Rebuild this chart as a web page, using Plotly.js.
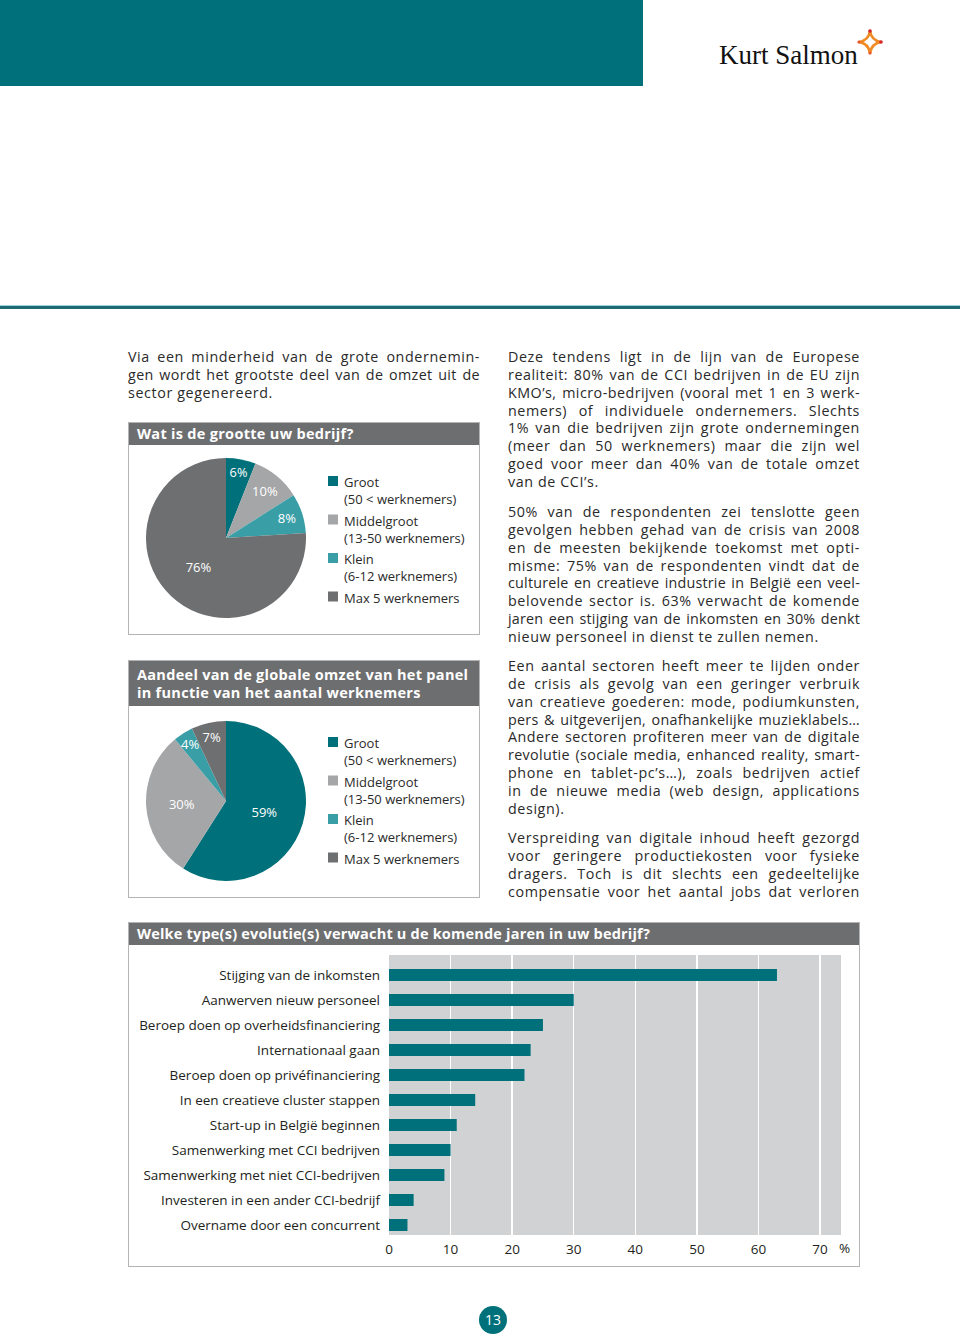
<!DOCTYPE html>
<html><head><meta charset="utf-8">
<script src="https://cdn.plot.ly/plotly-3.0.1.min.js"></script>
<style>
html,body{margin:0;padding:0}
body{width:960px;height:1338px;position:relative;background:#fff;font-family:"Open Sans",sans-serif;color:#2a2a2a;overflow:hidden}
.abs{position:absolute}
.col{position:absolute;width:352px;font-size:14.3px;line-height:17.85px;letter-spacing:0.6px}
.ln{white-space:nowrap}
.box{position:absolute;box-sizing:border-box;border:1px solid #b4b4b4;background:#fff}
.hdr{position:absolute;left:0;top:0;right:0;background:#6d6e70;color:#fff;font-weight:700;font-size:14.5px;padding-left:8px;box-sizing:border-box;letter-spacing:0.3px}
</style></head>
<body>
<div class="abs" style="left:0;top:0;width:643px;height:86px;background:#00717b"></div>
<div class="abs" style="left:719px;top:42px;font-family:'Liberation Serif',serif;font-size:27px;line-height:27px;color:#111">Kurt Salmon</div>
<svg class="abs" style="left:856px;top:28px" width="28" height="28" viewBox="0 0 28 28">
 <path d="M14 3 Q15.5 12.5 25 14 Q15.5 15.5 14 25 Q12.5 15.5 3 14 Q12.5 12.5 14 3 Z" fill="none" stroke="#f08a24" stroke-width="2.6" stroke-linejoin="round"/>
 <circle cx="14" cy="3" r="1.8" fill="#d7262e"/><circle cx="25" cy="14" r="1.8" fill="#d7262e"/><circle cx="3" cy="14" r="1.6" fill="#e9542a"/><circle cx="14" cy="25" r="1.6" fill="#e9542a"/>
</svg>
<div class="abs" style="left:0;top:305px;width:960px;height:1px;background:#9fd3d8"></div>
<div class="abs" style="left:0;top:306px;width:960px;height:2.5px;background:#1c6a73"></div>

<div class="col" style="left:128px;top:348px">
<div class="ln j"><span>Via een minderheid van de grote ondernemin-</span></div>
<div class="ln j"><span>gen wordt het grootste deel van de omzet uit de</span></div>
<div class="ln"><span>sector gegenereerd.</span></div>
</div>

<div class="col" style="left:508px;top:348px">
<div class="ln j"><span>Deze tendens ligt in de lijn van de Europese</span></div>
<div class="ln j"><span>realiteit: 80% van de CCI bedrijven in de EU zijn</span></div>
<div class="ln j"><span>KMO’s, micro-bedrijven (vooral met 1 en 3 werk-</span></div>
<div class="ln j"><span>nemers) of individuele ondernemers. Slechts</span></div>
<div class="ln j"><span>1% van die bedrijven zijn grote ondernemingen</span></div>
<div class="ln j"><span>(meer dan 50 werknemers) maar die zijn wel</span></div>
<div class="ln j"><span>goed voor meer dan 40% van de totale omzet</span></div>
<div class="ln"><span>van de CCI’s.</span></div>
</div>
<div class="col" style="left:508px;top:503px">
<div class="ln j"><span>50% van de respondenten zei tenslotte geen</span></div>
<div class="ln j"><span>gevolgen hebben gehad van de crisis van 2008</span></div>
<div class="ln j"><span>en de meesten bekijkende toekomst met opti-</span></div>
<div class="ln j"><span>misme: 75% van de respondenten vindt dat de</span></div>
<div class="ln j"><span>culturele en creatieve industrie in België een veel-</span></div>
<div class="ln j"><span>belovende sector is. 63% verwacht de komende</span></div>
<div class="ln j"><span>jaren een stijging van de inkomsten en 30% denkt</span></div>
<div class="ln"><span>nieuw personeel in dienst te zullen nemen.</span></div>
</div>
<div class="col" style="left:508px;top:657px">
<div class="ln j"><span>Een aantal sectoren heeft meer te lijden onder</span></div>
<div class="ln j"><span>de crisis als gevolg van een geringer verbruik</span></div>
<div class="ln j"><span>van creatieve goederen: mode, podiumkunsten,</span></div>
<div class="ln j"><span>pers &amp; uitgeverijen, onafhankelijke muzieklabels…</span></div>
<div class="ln j"><span>Andere sectoren profiteren meer van de digitale</span></div>
<div class="ln j"><span>revolutie (sociale media, enhanced reality, smart-</span></div>
<div class="ln j"><span>phone en tablet-pc’s…), zoals bedrijven actief</span></div>
<div class="ln j"><span>in de nieuwe media (web design, applications</span></div>
<div class="ln"><span>design).</span></div>
</div>
<div class="col" style="left:508px;top:829px">
<div class="ln j"><span>Verspreiding van digitale inhoud heeft gezorgd</span></div>
<div class="ln j"><span>voor geringere productiekosten voor fysieke</span></div>
<div class="ln j"><span>dragers. Toch is dit slechts een gedeeltelijke</span></div>
<div class="ln j"><span>compensatie voor het aantal jobs dat verloren</span></div>
</div>

<div class="box" style="left:128px;top:422px;width:352px;height:213px">
 <div class="hdr" style="height:22px;line-height:22px">Wat is de grootte uw bedrijf?</div>
</div>
<div id="pie1" class="abs" style="left:129px;top:445px;width:350px;height:188px"></div>

<div class="box" style="left:128px;top:660px;width:352px;height:238px">
 <div class="hdr" style="height:45px;line-height:18px;padding-top:5px">Aandeel van de globale omzet van het panel<br>in functie van het aantal werknemers</div>
</div>
<div id="pie2" class="abs" style="left:129px;top:706px;width:350px;height:190px"></div>

<div class="box" style="left:128px;top:922px;width:732px;height:345px">
 <div class="hdr" style="height:22px;line-height:22px;letter-spacing:0.2px">Welke type(s) evolutie(s) verwacht u de komende jaren in uw bedrijf?</div>
</div>
<div id="bars" class="abs" style="left:129px;top:945px;width:730px;height:320px"></div>

<div class="abs" style="left:479px;top:1306px;width:28px;height:28px;border-radius:50%;background:#00717b;color:#fff;font-size:14px;line-height:28px;text-align:center">13</div>

<script>
// ---- data ----
const sizeNames = ['Groot', 'Middelgroot', 'Klein', 'Max 5 werknemers'];
const sizeSub = ['(50 < werknemers)', '(13-50 werknemers)', '(6-12 werknemers)', ''];
const sizeColors = ['#00707a', '#a5a6a8', '#3a9ea7', '#6e6f71'];
const companyShare = [6, 10, 8, 76];
const turnoverShare = [59, 30, 4, 7];

const evolutionLabels = [
  'Stijging van de inkomsten',
  'Aanwerven nieuw personeel',
  'Beroep doen op overheidsfinanciering',
  'Internationaal gaan',
  'Beroep doen op privéfinanciering',
  'In een creatieve cluster stappen',
  'Start-up in België beginnen',
  'Samenwerking met CCI bedrijven',
  'Samenwerking met niet CCI-bedrijven',
  'Investeren in een ander CCI-bedrijf',
  'Overname door een concurrent'
];
const evolutionValues = [63, 30, 25, 23, 22, 14, 11, 10, 9, 4, 3];
const xTicks = [0, 10, 20, 30, 40, 50, 60, 70];

// ---- justify lines ----
function justify(){
  const W = 352, LS = 0.6, MINWS = 1.5;
  document.querySelectorAll('.j').forEach(d=>{
    const s=d.firstChild;
    s.style.wordSpacing='0px'; s.style.letterSpacing=LS+'px';
    let w=s.getBoundingClientRect().width;
    const n=(s.textContent.match(/ /g)||[]).length;
    const chars=s.textContent.length;
    if(n>0 && (W-w)/n < MINWS){
      const ls = LS - (w - W + MINWS*n)/chars;
      s.style.letterSpacing = ls+'px';
      w=s.getBoundingClientRect().width;
    }
    if(n>0){ s.style.wordSpacing=((W-w)/n)+'px'; }
  });
}
justify();
if(document.fonts&&document.fonts.ready) document.fonts.ready.then(justify);

const FONT = '"Open Sans", sans-serif';

function pieFig(id, values, h){
  const W = 350, cx = 97, cy = h===188?93:95, r = 80;
  const ann = [], shapes = [];
  sizeNames.forEach((nm,i)=>{
    const y1 = 36 + 38.5*i;
    shapes.push({type:'rect', xref:'paper', yref:'paper',
      x0:199/W, x1:209/W, y0:1-(y1+5)/h, y1:1-(y1-5)/h,
      fillcolor:sizeColors[i], line:{width:0}});
    ann.push({xref:'paper', yref:'paper', x:213/W, y:1-(y1-10)/h, xanchor:'left', yanchor:'top', align:'left',
      text: sizeSub[i] ? nm + '<br>' + sizeSub[i] : nm, showarrow:false,
      font:{family:FONT,size:13,color:'#2a2a2a'}});
  });
  // small slices: plotly would shrink their text, so place their label at the rim
  const total = values.reduce((a,b)=>a+b,0);
  let cum = 0;
  const pos = values.map(v=>{
    const mid = (cum + v/2)/total; cum += v;
    if (v/total >= 0.05) return 'inside';
    const ang = 2*Math.PI*mid, rr = 0.84*r;
    ann.push({xref:'paper', yref:'paper', x:(cx+rr*Math.sin(ang))/W, y:1-(cy-rr*Math.cos(ang))/h,
      xanchor:'center', yanchor:'middle', text:v+'%', showarrow:false,
      font:{family:FONT,size:13,color:'#ffffff'}});
    return 'none';
  });
  Plotly.newPlot(id, [{
    type:'pie', values:values, labels:sizeNames, sort:false, direction:'clockwise', rotation:0,
    marker:{colors:sizeColors, line:{width:0}},
    texttemplate:'%{value}%', textposition:pos, insidetextorientation:'horizontal',
    textfont:{family:FONT, size:13, color:'#ffffff'}, hoverinfo:'none',
    domain:{x:[(cx-r)/W,(cx+r)/W], y:[(h-cy-r)/h,(h-cy+r)/h]}
  }], {
    width:W, height:h, margin:{l:0,r:0,t:0,b:0}, showlegend:false,
    paper_bgcolor:'rgba(0,0,0,0)', annotations:ann, shapes:shapes
  }, {staticPlot:true});
}
pieFig('pie1', companyShare, 188);
pieFig('pie2', turnoverShare, 190);

Plotly.newPlot('bars', [{
  type:'bar', orientation:'h', x:evolutionValues, y:evolutionLabels,
  marker:{color:'#00707a'}, width:0.48, hoverinfo:'none'
}], {
  width:730, height:320, margin:{l:260, r:18, t:10, b:30},
  paper_bgcolor:'rgba(0,0,0,0)', plot_bgcolor:'#d1d2d4',
  font:{family:FONT, size:13.5, color:'#231f20'},
  xaxis:{range:[0,73.4], tickvals:xTicks, ticktext:xTicks.map(String), showgrid:true, gridcolor:'#ffffff', gridwidth:1.5,
    zeroline:false, showline:false, ticks:'', ticklabelstandoff:4, tickfont:{size:13.5}},
  yaxis:{type:'category', range:[10.4,-0.8], showgrid:false, zeroline:false, ticks:'', ticklabelstandoff:8, tickfont:{size:13.5}},
  annotations:[{xref:'paper', yref:'paper', x:0.992, y:0, yshift:-13, xanchor:'left', yanchor:'middle', text:'%', showarrow:false, font:{size:13.5}}]
}, {staticPlot:true});
</script>
</body></html>
